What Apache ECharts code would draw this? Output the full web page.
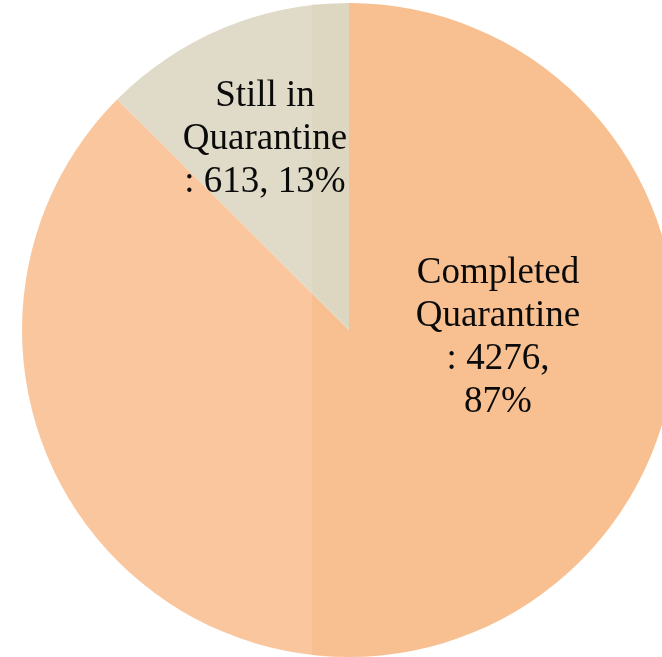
<!DOCTYPE html>
<html>
<head>
<meta charset="utf-8">
<script src="https://cdn.jsdelivr.net/npm/echarts@6/dist/echarts.min.js"></script>
<style>html,body{margin:0;padding:0;background:#fff;}#c{width:662px;height:657px;}</style>
</head>
<body>
<div id="c"></div>
<script>
const categories = ['Completed\nQuarantine\n: 4276,\n87%', 'Still in\nQuarantine\n: 613, 13%'];
const names = ['Completed Quarantine', 'Still in Quarantine'];
const values = [4276, 613];
const lightColors = ['#F9C69E', '#E0DBC9'];
const darkColors = ['#F8C091', '#DDD7C2'];
const labelPos = [[498, 338], [265, 139]];

function grad(light, dark) {
  const s = 312 / 662;
  return { type: 'linear', x: 0, y: 0, x2: 662, y2: 0, global: true,
    colorStops: [{offset: 0, color: light}, {offset: s, color: light}, {offset: s, color: dark}, {offset: 1, color: dark}] };
}

const chart = echarts.init(document.getElementById('c'), null, {renderer: 'canvas'});
chart.setOption({
  animation: false,
  series: [{
    type: 'pie',
    center: [349, 330],
    radius: [0, 327],
    startAngle: 90,
    clockwise: true,
    data: values.map((v, i) => ({
      name: names[i], value: v,
      itemStyle: { color: grad(lightColors[i], darkColors[i]) },
      label: { formatter: categories[i] }
    })),
    label: {
      show: true, position: 'inside',
      fontFamily: '"Liberation Serif", "Times New Roman", serif',
      fontSize: 37, lineHeight: 43, color: '#0a0a0a', align: 'center'
    },
    labelLine: { show: false },
    labelLayout: function (p) { return { x: labelPos[p.dataIndex][0], y: labelPos[p.dataIndex][1], align: 'center', verticalAlign: 'middle' }; },
    emphasis: { disabled: true }
  }]
});
</script>
</body>
</html>
